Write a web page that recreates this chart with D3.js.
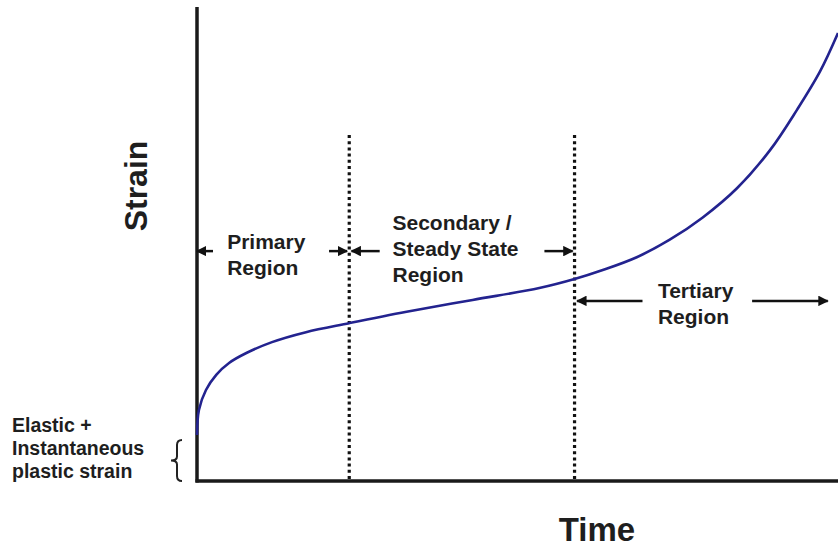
<!DOCTYPE html>
<html>
<head>
<meta charset="utf-8">
<script src="https://cdn.jsdelivr.net/npm/d3@7"></script>
<style>
  body { margin: 0; background: #fff; }
  svg { display: block; }
  text { font-family: "Liberation Sans", Arial, sans-serif; font-weight: bold; fill: #1e1e1e; }
</style>
</head>
<body>
<svg width="838" height="550"></svg>
<script>
document.addEventListener('DOMContentLoaded', () => {

    // creep curve (time and strain in % of axis)
    const timeVals   = [0, 0.3, 1.4, 3.0, 5.0, 7.7, 11.7, 17.0, 23.75, 32.7, 43.0, 53.4, 58.9, 63.3, 68.6, 73.75, 78.9, 84.2, 89.4, 93.6, 97.2, 100];
    const strainVals = [9.7, 15.0, 19.2, 22.4, 24.9, 27.0, 29.3, 31.4, 33.3, 35.7, 38.2, 40.7, 42.6, 44.5, 47.2, 50.9, 55.6, 61.7, 69.8, 78.3, 86.4, 94.5];

    // region boundaries (dotted lines)
    const boundaries = [23.75, 58.9];
    const boundaryTop = 73;

    // region arrows: [from t, to t, strain level]
    const arrows = [
        [2.5, 0, 48.5],
        [20.6, 23.4, 48.5],
        [28.5, 24.1, 48.5],
        [54.2, 58.6, 48.5],
        [69.5, 59.3, 38.0],
        [86.6, 98.4, 38.0]
    ];

    const regionNames = ['Primary', 'Secondary', 'Tertiary'];
    const regionLines = [
        ['Primary', 'Region'],
        ['Secondary /', 'Steady State', 'Region'],
        ['Tertiary', 'Region']
    ];
    const regionLabelT = [4.7, 30.5, 71.9];
    const regionLabelS = [48.9, 53.0, 38.6];

    const elasticLines = ['Elastic +', 'Instantaneous', 'plastic strain'];

    const svg = d3.select('svg');

    const x = d3.scaleLinear().domain([0, 100]).range([197, 838]);
    const y = d3.scaleLinear().domain([0, 100]).range([481, 7]);

    const defs = svg.append('defs');
    defs.append('marker')
        .attr('id', 'head')
        .attr('viewBox', '0 0 10 10')
        .attr('refX', 9).attr('refY', 5)
        .attr('markerWidth', 4.2).attr('markerHeight', 4.2)
        .attr('markerUnits', 'strokeWidth')
        .attr('orient', 'auto')
        .append('path')
        .attr('d', 'M0,0 L10,5 L0,10 Z')
        .attr('fill', '#111');

    // dotted region boundaries
    svg.selectAll('.boundary')
        .data(boundaries)
        .enter()
        .append('line')
        .attr('class', 'boundary')
        .attr('x1', d => x(d)).attr('x2', d => x(d))
        .attr('y1', y(boundaryTop)).attr('y2', y(0))
        .attr('stroke', '#111')
        .attr('stroke-width', 3.2)
        .attr('stroke-dasharray', '3,3.2');

    // axes (plain lines, no ticks)
    svg.append('line')
        .attr('x1', x(0)).attr('x2', x(0))
        .attr('y1', y(0) + 1.5).attr('y2', y(100))
        .attr('stroke', '#1a1a1a').attr('stroke-width', 3.5);
    svg.append('line')
        .attr('x1', x(0) - 1.5).attr('x2', x(100))
        .attr('y1', y(0)).attr('y2', y(0))
        .attr('stroke', '#1a1a1a').attr('stroke-width', 3.5);

    // creep curve
    const pts = timeVals.map((t, i) => [t, strainVals[i]]);
    const line = d3.line()
        .x(d => x(d[0]))
        .y(d => y(d[1]))
        .curve(d3.curveCatmullRom.alpha(0.5));

    svg.append('path')
        .attr('d', line(pts))
        .attr('fill', 'none')
        .attr('stroke', '#23238f')
        .attr('stroke-width', 2.6);

    // arrows
    svg.selectAll('.arrow')
        .data(arrows)
        .enter()
        .append('line')
        .attr('class', 'arrow')
        .attr('x1', d => x(d[0])).attr('x2', d => x(d[1]))
        .attr('y1', d => y(d[2])).attr('y2', d => y(d[2]))
        .attr('stroke', '#111')
        .attr('stroke-width', 2.5)
        .attr('marker-end', 'url(#head)');

    // region labels
    regionNames.forEach((name, i) => {
        const t = svg.append('text')
            .attr('x', x(regionLabelT[i]))
            .attr('y', y(regionLabelS[i]))
            .style('font-size', '21px');
        regionLines[i].forEach((s, j) => {
            t.append('tspan')
                .attr('x', x(regionLabelT[i]))
                .attr('dy', j === 0 ? 0 : 26)
                .text(s);
        });
    });

    // elastic label + brace
    const el = svg.append('text')
        .attr('x', 12).attr('y', 432)
        .style('font-size', '19.5px');
    elasticLines.forEach((s, j) => {
        el.append('tspan').attr('x', 12).attr('dy', j === 0 ? 0 : 23).text(s);
    });

    const bx = 177, top = y(9.7) + 5, bot = y(0);
    const mid = (top + bot) / 2;
    svg.append('path')
        .attr('d', `M${bx + 5},${top} Q${bx},${top} ${bx},${top + 5} L${bx},${mid - 4} Q${bx},${mid} ${bx - 6},${mid} Q${bx},${mid} ${bx},${mid + 4} L${bx},${bot - 5} Q${bx},${bot} ${bx + 5},${bot}`)
        .attr('fill', 'none')
        .attr('stroke', '#222')
        .attr('stroke-width', 2);

    // axis titles
    svg.append('text')
        .attr('transform', `translate(147,186) rotate(-90)`)
        .attr('text-anchor', 'middle')
        .style('font-size', '32px')
        .text('Strain');

    svg.append('text')
        .attr('x', 597).attr('y', 541)
        .attr('text-anchor', 'middle')
        .style('font-size', '33px')
        .text('Time');
});
</script>
</body>
</html>
